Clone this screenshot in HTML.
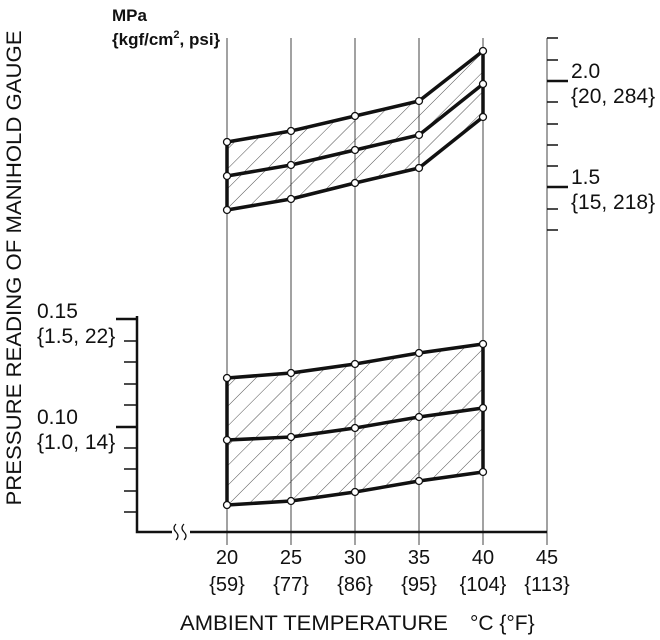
<!DOCTYPE html>
<html><head><meta charset="utf-8"><style>body{margin:0;background:#fff}svg{display:block}text{font-family:"Liberation Sans",Arial,sans-serif;fill:#111}</style></head>
<body>
<svg width="660" height="640" viewBox="0 0 660 640" xmlns="http://www.w3.org/2000/svg">
<defs>
<pattern id="h" patternUnits="userSpaceOnUse" width="14" height="14" patternTransform="rotate(45)">
<line x1="0" y1="0" x2="0" y2="14" stroke="#222" stroke-width="0.8"/>
</pattern>
</defs>
<g stroke="#444" stroke-width="1">
<line x1="227" y1="38" x2="227" y2="545"/>
<line x1="291" y1="38" x2="291" y2="545"/>
<line x1="355" y1="38" x2="355" y2="545"/>
<line x1="419" y1="38" x2="419" y2="545"/>
<line x1="483" y1="38" x2="483" y2="545"/>
<line x1="547" y1="38" x2="547" y2="545"/>
</g>
<g stroke="#111" stroke-width="1.5">
<line x1="547" y1="38" x2="558" y2="38"/><line x1="547" y1="60" x2="558" y2="60"/>
<line x1="547" y1="102" x2="558" y2="102"/><line x1="547" y1="124" x2="558" y2="124"/>
<line x1="547" y1="145" x2="558" y2="145"/><line x1="547" y1="166" x2="558" y2="166"/>
<line x1="547" y1="209" x2="558" y2="209"/><line x1="547" y1="230" x2="558" y2="230"/>
</g>
<g stroke="#111" stroke-width="2.5">
<line x1="547" y1="81" x2="568" y2="81"/><line x1="547" y1="187" x2="568" y2="187"/>
</g>
<g stroke="#111" stroke-width="2.5" fill="none">
<polyline points="137,316 137,532 172,532"/>
<line x1="190" y1="532" x2="547" y2="532"/>
<line x1="116" y1="319" x2="137" y2="319"/><line x1="116" y1="427" x2="137" y2="427"/>
</g>
<path d="M176,524 q-4,4 0,8 q4,4 0,8 M184,524 q-4,4 0,8 q4,4 0,8" stroke="#111" stroke-width="1.2" fill="none"/>
<g stroke="#111" stroke-width="1.5">
<line x1="124" y1="341" x2="137" y2="341"/><line x1="124" y1="362" x2="137" y2="362"/>
<line x1="124" y1="384" x2="137" y2="384"/><line x1="124" y1="405" x2="137" y2="405"/>
<line x1="124" y1="448" x2="137" y2="448"/><line x1="124" y1="469" x2="137" y2="469"/>
<line x1="124" y1="491" x2="137" y2="491"/><line x1="124" y1="512" x2="137" y2="512"/>
</g>
<polygon points="227,142 291,131 355,116 419,101 483,51 483,117 419,168 355,183 291,199 227,210" fill="url(#h)"/>
<polygon points="227,378 291,373 355,364 419,353 483,344 483,472 419,481 355,492 291,501 227,505" fill="url(#h)"/>
<g stroke="#111" stroke-width="3.5" fill="none" stroke-linejoin="round">
<polyline points="227,142 291,131 355,116 419,101 483,51"/>
<polyline points="227,176 291,165 355,150 419,135 483,84"/>
<polyline points="227,210 291,199 355,183 419,168 483,117"/>
<line x1="227" y1="142" x2="227" y2="210"/><line x1="483" y1="51" x2="483" y2="117"/>
<polyline points="227,378 291,373 355,364 419,353 483,344"/>
<polyline points="227,440 291,437 355,428 419,417 483,408"/>
<polyline points="227,505 291,501 355,492 419,481 483,472"/>
<line x1="227" y1="378" x2="227" y2="505"/><line x1="483" y1="344" x2="483" y2="472"/>
</g>
<g fill="#fff" stroke="#111" stroke-width="1.3">
<circle cx="227" cy="142" r="3.5"/><circle cx="291" cy="131" r="3.5"/><circle cx="355" cy="116" r="3.5"/><circle cx="419" cy="101" r="3.5"/><circle cx="483" cy="51" r="3.5"/>
<circle cx="227" cy="176" r="3.5"/><circle cx="291" cy="165" r="3.5"/><circle cx="355" cy="150" r="3.5"/><circle cx="419" cy="135" r="3.5"/><circle cx="483" cy="84" r="3.5"/>
<circle cx="227" cy="210" r="3.5"/><circle cx="291" cy="199" r="3.5"/><circle cx="355" cy="183" r="3.5"/><circle cx="419" cy="168" r="3.5"/><circle cx="483" cy="117" r="3.5"/>
<circle cx="227" cy="378" r="3.5"/><circle cx="291" cy="373" r="3.5"/><circle cx="355" cy="364" r="3.5"/><circle cx="419" cy="353" r="3.5"/><circle cx="483" cy="344" r="3.5"/>
<circle cx="227" cy="440" r="3.5"/><circle cx="291" cy="437" r="3.5"/><circle cx="355" cy="428" r="3.5"/><circle cx="419" cy="417" r="3.5"/><circle cx="483" cy="408" r="3.5"/>
<circle cx="227" cy="505" r="3.5"/><circle cx="291" cy="501" r="3.5"/><circle cx="355" cy="492" r="3.5"/><circle cx="419" cy="481" r="3.5"/><circle cx="483" cy="472" r="3.5"/>
</g>
<text x="112" y="21" font-size="17" font-weight="bold">MPa</text>
<text x="112" y="45" font-size="17" font-weight="bold">{kgf/cm<tspan font-size="11" dy="-7">2</tspan><tspan dy="7">, psi}</tspan></text>
<text x="571" y="78" font-size="21">2.0</text>
<text x="571" y="103" font-size="21">{20, 284}</text>
<text x="571" y="184" font-size="21">1.5</text>
<text x="571" y="209" font-size="21">{15, 218}</text>
<text x="37" y="318" font-size="21">0.15</text>
<text x="37" y="343" font-size="21">{1.5, 22}</text>
<text x="37" y="424" font-size="21">0.10</text>
<text x="37" y="449" font-size="21">{1.0, 14}</text>
<text transform="translate(21,268) rotate(-90)" font-size="21" text-anchor="middle" textLength="475" lengthAdjust="spacingAndGlyphs">PRESSURE READING OF MANIHOLD GAUGE</text>
<g font-size="20" text-anchor="middle">
<text x="227" y="564">20</text><text x="291" y="564">25</text><text x="355" y="564">30</text><text x="419" y="564">35</text><text x="483" y="564">40</text><text x="547" y="564">45</text>
<text x="227" y="591">{59}</text><text x="291" y="591">{77}</text><text x="355" y="591">{86}</text><text x="419" y="591">{95}</text><text x="483" y="591">{104}</text><text x="547" y="591">{113}</text>
</g>
<text x="180" y="630" font-size="21" textLength="268" lengthAdjust="spacingAndGlyphs">AMBIENT TEMPERATURE</text>
<text x="470" y="630" font-size="21">°C {°F}</text>
</svg>
</body></html>
